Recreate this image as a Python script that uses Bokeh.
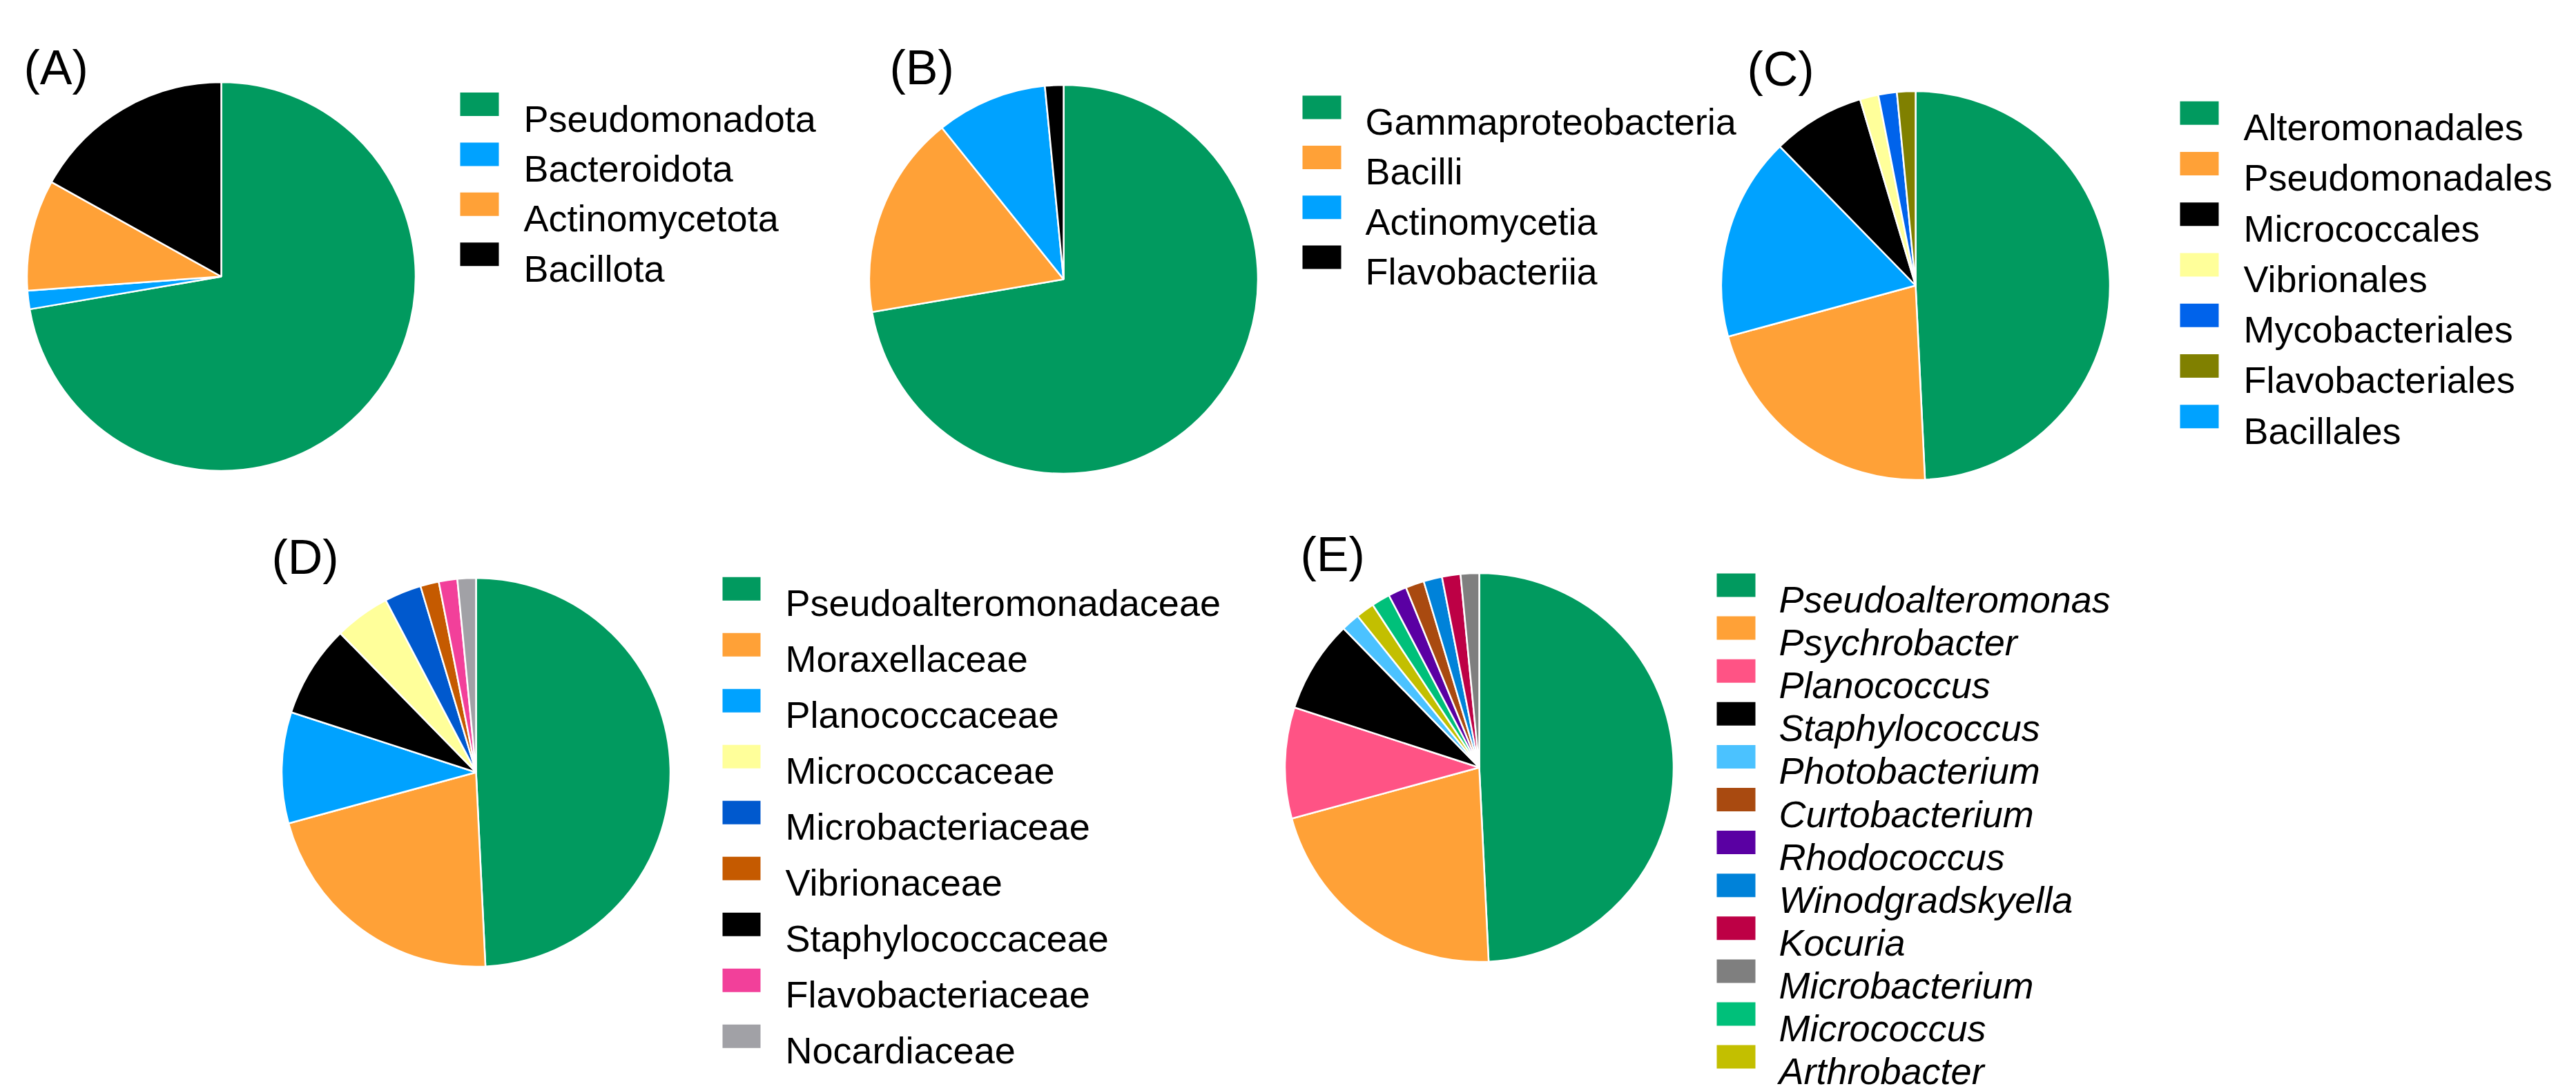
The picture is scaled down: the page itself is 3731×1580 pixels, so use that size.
import math
from bokeh.plotting import figure
from bokeh.models import Range1d, ColumnDataSource
from bokeh.core.properties import value
from bokeh.embed import file_html
from bokeh.resources import INLINE

# ---------------- data ----------------
# (A) phylum
A_names = ["Pseudomonadota", "Bacteroidota", "Actinomycetota", "Bacillota"]
A_counts = [47, 1, 6, 11]
A_colors = ["#019A5F", "#00A2FF", "#FFA137", "#000000"]
A_pie_order = ["Pseudomonadota", "Bacteroidota", "Actinomycetota", "Bacillota"]

# (B) class
B_names = ["Gammaproteobacteria", "Bacilli", "Actinomycetia", "Flavobacteriia"]
B_counts = [47, 11, 6, 1]
B_colors = ["#019A5F", "#FFA137", "#00A2FF", "#000000"]
B_pie_order = ["Gammaproteobacteria", "Bacilli", "Actinomycetia", "Flavobacteriia"]

# (C) order
C_names = ["Alteromonadales", "Pseudomonadales", "Micrococcales", "Vibrionales",
           "Mycobacteriales", "Flavobacteriales", "Bacillales"]
C_counts = [32, 14, 5, 1, 1, 1, 11]
C_colors = ["#019A5F", "#FFA137", "#000000", "#FFFF9A", "#0063EB", "#808000", "#00A2FF"]
C_pie_order = ["Alteromonadales", "Pseudomonadales", "Bacillales", "Micrococcales",
               "Vibrionales", "Mycobacteriales", "Flavobacteriales"]

# (D) family
D_names = ["Pseudoalteromonadaceae", "Moraxellaceae", "Planococcaceae", "Micrococcaceae",
           "Microbacteriaceae", "Vibrionaceae", "Staphylococcaceae", "Flavobacteriaceae",
           "Nocardiaceae"]
D_counts = [32, 14, 6, 3, 2, 1, 5, 1, 1]
D_colors = ["#019A5F", "#FFA137", "#00A2FF", "#FFFF9A", "#0059CE", "#C55A00", "#000000",
            "#F2409A", "#A1A1A6"]
D_pie_order = ["Pseudoalteromonadaceae", "Moraxellaceae", "Planococcaceae",
               "Staphylococcaceae", "Micrococcaceae", "Microbacteriaceae", "Vibrionaceae",
               "Flavobacteriaceae", "Nocardiaceae"]

# (E) genus
E_names = ["Pseudoalteromonas", "Psychrobacter", "Planococcus", "Staphylococcus",
           "Photobacterium", "Curtobacterium", "Rhodococcus", "Winodgradskyella", "Kocuria",
           "Microbacterium", "Micrococcus", "Arthrobacter"]
E_counts = [32, 14, 6, 5, 1, 1, 1, 1, 1, 1, 1, 1]
E_colors = ["#019A5F", "#FFA137", "#FF5385", "#000000", "#4BC2FF", "#A94A10", "#5A00A3",
            "#0082D9", "#BD0045", "#7F7F7F", "#00C07A", "#C3BF00"]
E_pie_order = ["Pseudoalteromonas", "Psychrobacter", "Planococcus", "Staphylococcus",
               "Photobacterium", "Arthrobacter", "Micrococcus", "Rhodococcus",
               "Curtobacterium", "Winodgradskyella", "Kocuria", "Microbacterium"]

panel_tags = ["(A)", "(B)", "(C)", "(D)", "(E)"]

# ---------------- layout (pixels of the reference picture) ----------------
W, H = 3731, 1580
FONT = "Liberation Sans"

def fx(X):
    return X

def fy(Y):
    return H - Y

layout = [
    dict(tag=(34, 97), c=(320, 400), sq=(666, 722), ly=(150.5, 72.4), tx=758, it=False),
    dict(tag=(1288, 97), c=(1540, 404), sq=(1886, 1942), ly=(155.1, 72.3), tx=1977, it=False),
    dict(tag=(2530, 99), c=(2774, 413), sq=(3157, 3213), ly=(163.2, 73.25), tx=3249, it=False),
    dict(tag=(393, 806), c=(689, 1118), sq=(1046, 1101), ly=(852.3, 81.0), tx=1137, it=False),
    dict(tag=(1883, 802), c=(2142, 1111), sq=(2486, 2542), ly=(847.0, 62.1), tx=2576, it=True),
]
R = 281.5
SQ_H = 34

panels = [
    (A_names, A_counts, A_colors, A_pie_order),
    (B_names, B_counts, B_colors, B_pie_order),
    (C_names, C_counts, C_colors, C_pie_order),
    (D_names, D_counts, D_colors, D_pie_order),
    (E_names, E_counts, E_colors, E_pie_order),
]

p = figure(width=W, height=H, x_range=Range1d(0, W), y_range=Range1d(0, H),
           output_backend="svg", toolbar_location=None, min_border=0)
p.axis.visible = False
p.grid.visible = False
p.outline_line_color = None
p.background_fill_color = "white"
p.border_fill_color = "white"

for (names, counts, colors, order), lay, tag in zip(panels, layout, panel_tags):
    cmap = dict(zip(names, colors))
    vmap = dict(zip(names, counts))
    total = float(sum(counts))
    starts, ends, cols = [], [], []
    cum = 0.0
    for n in order:
        c0 = cum / total
        cum += vmap[n]
        c1 = cum / total
        starts.append(math.pi / 2 - 2 * math.pi * c1)
        ends.append(math.pi / 2 - 2 * math.pi * c0)
        cols.append(cmap[n])
    cx, cy = lay["c"]
    src = ColumnDataSource(dict(x=[fx(cx)] * len(order), y=[fy(cy)] * len(order),
                                start=starts, end=ends, color=cols))
    p.wedge(x="x", y="y", radius=R, start_angle="start", end_angle="end",
            direction="anticlock", fill_color="color", line_color="white",
            line_width=2.5, source=src)

    # legend
    sx0, sx1 = lay["sq"]
    y0, dy = lay["ly"]
    ys = [y0 + i * dy for i in range(len(names))]
    lsrc = ColumnDataSource(dict(
        left=[fx(sx0)] * len(names), right=[fx(sx1)] * len(names),
        top=[fy(y - SQ_H / 2) for y in ys], bottom=[fy(y + SQ_H / 2) for y in ys],
        color=list(colors),
        tx=[fx(lay["tx"])] * len(names), ty=[fy(y + 20.5) for y in ys],
        text=list(names)))
    p.quad(left="left", right="right", top="top", bottom="bottom",
           fill_color="color", line_color=None, source=lsrc)
    p.text(x="tx", y="ty", text="text", source=lsrc, text_font=value(FONT),
           text_font_size="54px", text_color="black", text_baseline="alphabetic",
           text_align="left", text_font_style="italic" if lay["it"] else "normal")

    # panel tag
    tx, tb = lay["tag"]
    p.text(x=[fx(tx)], y=[fy(tb)], text=[tag], text_font=value(FONT),
           text_font_size="70px", text_color="black", text_baseline="alphabetic",
           text_align="left")

open("out.html", "w").write(file_html(p, INLINE))
